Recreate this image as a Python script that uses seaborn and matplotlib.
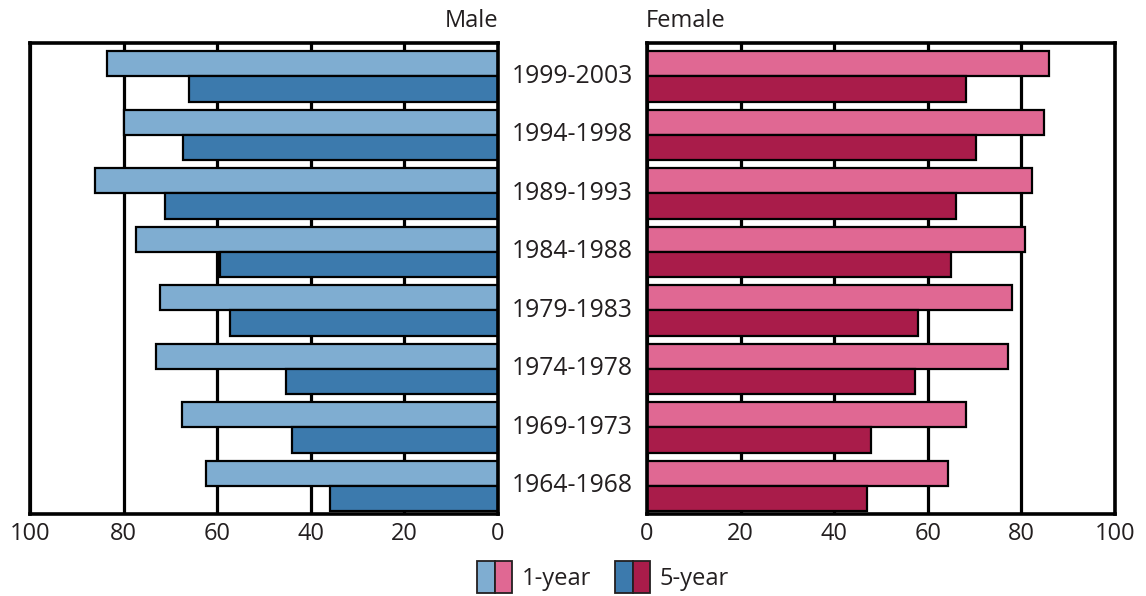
import numpy as np
import pandas as pd
import seaborn as sns
import matplotlib
matplotlib.use("Agg")
import matplotlib.pyplot as plt
import matplotlib.transforms as mtransforms
from matplotlib.patches import Patch
from matplotlib.legend_handler import HandlerTuple

periods = ["1999-2003", "1994-1998", "1989-1993", "1984-1988",
           "1979-1983", "1974-1978", "1969-1973", "1964-1968"]
survival_types = ["1-year", "5-year"]
male_1yr = [83.6, 80.0, 86.1, 77.3, 72.2, 73.1, 67.5, 62.4]
male_5yr = [66.1, 67.4, 71.2, 59.3, 57.2, 45.3, 44.1, 35.9]
female_1yr = [86.0, 84.8, 82.2, 80.8, 78.0, 77.2, 68.2, 64.4]
female_5yr = [68.2, 70.2, 66.0, 65.0, 58.0, 57.2, 47.9, 47.1]
xticks = [0, 20, 40, 60, 80, 100]

male_colors = ["#7fadd1", "#3c7aad"]
female_colors = ["#e06893", "#a91c4a"]
text_color = "#231f20"

def long_df(v1, v5):
    return pd.DataFrame({
        "period": periods * 2,
        "type": [survival_types[0]] * len(periods) + [survival_types[1]] * len(periods),
        "value": list(v1) + list(v5),
    })

male_df = long_df(male_1yr, male_5yr)
female_df = long_df(female_1yr, female_5yr)

sns.set_theme(style="white")
plt.rcParams["font.family"] = ["Open Sans", "DejaVu Sans"]
plt.rcParams["text.color"] = text_color

fig = plt.figure(figsize=(11.46, 5.96), dpi=100)
W, H = 1146, 596
axL = fig.add_axes([30 / W, 1 - 514 / H, (498 - 30) / W, (514 - 43) / H])
axR = fig.add_axes([647 / W, 1 - 514 / H, (1115 - 647) / W, (514 - 43) / H])

for ax, df, cols in [(axL, male_df, male_colors), (axR, female_df, female_colors)]:
    sns.barplot(data=df, y="period", x="value", hue="type", orient="h",
                order=periods, hue_order=survival_types, palette=cols,
                width=0.86, edgecolor="black", linewidth=1.6, saturation=1,
                legend=False, ax=ax)
    ax.set_axisbelow(True)
    ax.xaxis.grid(True, color="black", linewidth=2.3)
    ax.yaxis.grid(False)
    ax.set_xticks(xticks)
    ax.set_xticklabels([str(t) for t in xticks])
    ax.tick_params(axis="x", length=0, pad=6, labelsize=17, labelcolor=text_color)
    ax.set_yticks([])
    ax.set_ylim(7.48, -0.57)
    ax.set_xlabel("")
    ax.set_ylabel("")
    for s in ax.spines.values():
        s.set_visible(True)
        s.set_color("black")
        s.set_linewidth(2.6)

axL.set_xlim(100, 0)
axR.set_xlim(0, 100)

trans = mtransforms.blended_transform_factory(axL.transAxes, axL.transData)
for i, p in enumerate(periods):
    axL.text((572 - 30) / (498 - 30), i, p, transform=trans, ha="center",
             va="center", fontsize=17.8, color=text_color, clip_on=False)

fig.text(498 / W, 1 - 21 / H, "Male", ha="right", va="center", fontsize=17)
fig.text(646 / W, 1 - 21 / H, "Female", ha="left", va="center", fontsize=17)

handles = [(Patch(facecolor=male_colors[0], edgecolor=text_color, linewidth=1.3),
            Patch(facecolor=female_colors[0], edgecolor=text_color, linewidth=1.3)),
           (Patch(facecolor=male_colors[1], edgecolor=text_color, linewidth=1.3),
            Patch(facecolor=female_colors[1], edgecolor=text_color, linewidth=1.3))]
fig.legend(handles=handles, labels=survival_types,
           handler_map={tuple: HandlerTuple(ndivide=None, pad=0)},
           loc="center", bbox_to_anchor=(603 / W, 1 - 577 / H), ncol=2,
           frameon=False, fontsize=17, handlelength=1.5, handleheight=1.7,
           handletextpad=0.4, columnspacing=1.0)

fig.savefig("out.png", dpi=100)
